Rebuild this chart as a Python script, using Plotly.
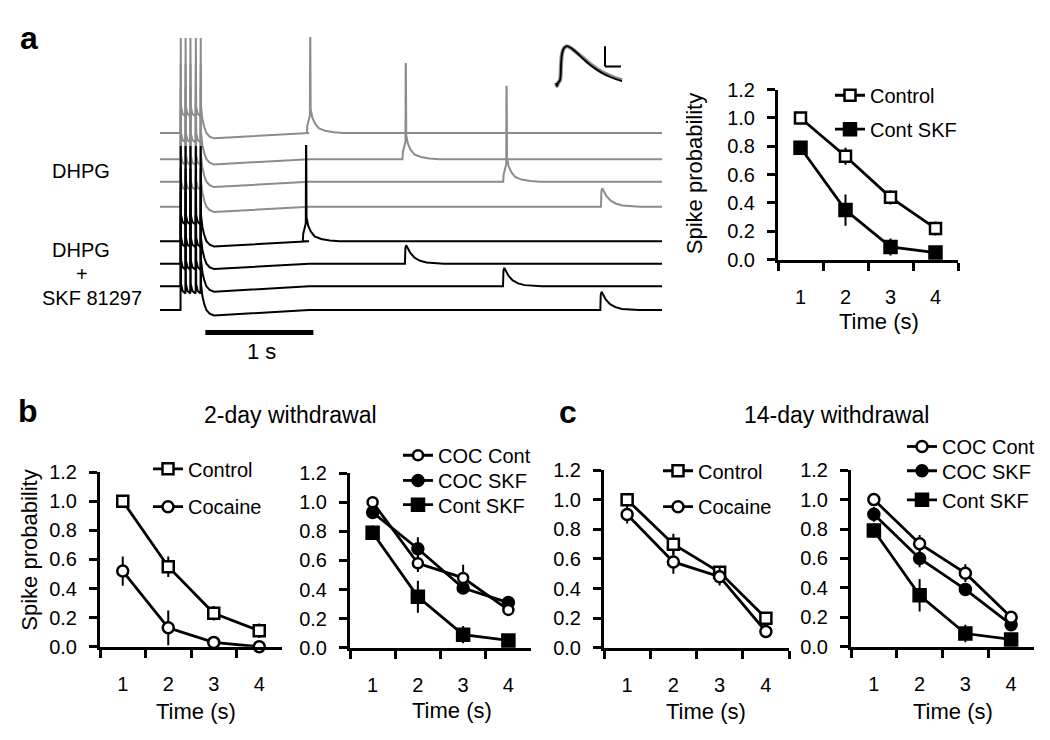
import plotly.graph_objects as go

W, H = 1050, 740
FONT = "Arial, Liberation Sans, sans-serif"


def fx(p):
    return p / W


def fy(p):
    return 1 - p / H


# ---------------- data: panel a traces (s, mV) ----------------
TRACE_OFFSETS_MV = [149, 127, 108, 87, 58, 39, 20, 0]
TRACE_GROUP = ["DHPG"] * 4 + ["DHPG + SKF 81297"] * 4
BURST_TIMES_S = [0.19, 0.235, 0.28, 0.33, 0.375]
EVENT_ONSET_S = [1.36, 2.245, 3.178, 4.083, 1.322, 2.268, 3.176, 4.077]
EVENT_HAS_SPIKE = [True, True, True, False, True, False, False, False]
TRACE_END_S = 4.648
SPIKE_PEAK_MV = 80

AHP_T = [0.012, 0.03, 0.05, 0.08, 0.12, 0.3, 0.55, 0.8, 1.0]
AHP_V = [12, 5, 0, -3, -4.5, -3.5, -2, -0.8, 0]
SPK_EVENT_T = [0.0, 0.004, 0.015, 0.028, 0.03, 0.032, 0.035, 0.05, 0.075, 0.11, 0.17, 0.25, 0.34]
SPK_EVENT_V = [0, 6, 10, 15, 80, 80, 20, 13, 8, 4, 1.8, 0.6, 0]
HUMP_T = [0.0, 0.004, 0.012, 0.025, 0.05, 0.09, 0.14, 0.2, 0.28, 0.36]
HUMP_V = [0, 13, 15.5, 13.5, 9, 5, 2.5, 1, 0.3, 0]

# inset EPSP (ms, mV)
EPSP_T = [-2, 0, 2, 6, 8, 10, 14, 20, 28, 38, 52, 68, 88, 108, 130]
EPSP_GRAY_V = [0, -1.5, 0, 1.5, 9, 15, 18, 19, 18, 16, 13, 9.5, 6, 3.5, 1.5]
EPSP_BLACK_V = [0, -1.5, 0, 1.5, 9, 15, 18, 19, 18, 16, 12.6, 9, 5.5, 3, 1.0]

# ---------------- data: summary plots ----------------
TIME_CATS = ["1", "2", "3", "4"]

A_CONTROL = [1.00, 0.73, 0.44, 0.22]
A_CONTROL_ERR = [0.01, 0.06, 0.05, 0.05]
CONT_SKF = [0.79, 0.35, 0.09, 0.05]
CONT_SKF_ERR = [0.05, 0.11, 0.06, 0.03]

B_CONTROL = [1.00, 0.55, 0.23, 0.11]
B_CONTROL_ERR = [0.01, 0.07, 0.05, 0.05]
B_COCAINE = [0.52, 0.13, 0.03, 0.00]
B_COCAINE_ERR = [0.10, 0.12, 0.01, 0.00]
B_COC_CONT = [1.00, 0.58, 0.48, 0.26]
B_COC_CONT_ERR = [0.01, 0.06, 0.09, 0.04]
B_COC_SKF = [0.93, 0.68, 0.41, 0.31]
B_COC_SKF_ERR = [0.03, 0.08, 0.03, 0.03]

C_CONTROL = [1.00, 0.70, 0.51, 0.20]
C_CONTROL_ERR = [0.01, 0.07, 0.03, 0.02]
C_COCAINE = [0.90, 0.58, 0.48, 0.11]
C_COCAINE_ERR = [0.06, 0.08, 0.06, 0.02]
C_COC_CONT = [1.00, 0.70, 0.50, 0.20]
C_COC_CONT_ERR = [0.01, 0.06, 0.06, 0.02]
C_COC_SKF = [0.90, 0.60, 0.39, 0.15]
C_COC_SKF_ERR = [0.05, 0.06, 0.04, 0.03]

Y_TICKS = [0.0, 0.2, 0.4, 0.6, 0.8, 1.0, 1.2]

GRAY = "#8c8c8c"
BLACK = "#000000"

fig = go.Figure()


# ---------------- panel a traces ----------------
def build_trace(offset, onset, has_spike):
    ts, vs = [0.0], [0.0]
    for i, tb in enumerate(BURST_TIMES_S):
        pre = 0.0 if i == 0 else 14.0
        ts += [tb, tb + 0.002, tb + 0.005]
        vs += [pre, SPIKE_PEAK_MV, 22.0]
        if i < len(BURST_TIMES_S) - 1:
            ts.append(tb + 0.02)
            vs.append(16.0)
    tl = BURST_TIMES_S[-1] + 0.005
    for t, v in zip(AHP_T, AHP_V):
        ts.append(tl + t)
        vs.append(v)
    tmpl_t, tmpl_v = (SPK_EVENT_T, SPK_EVENT_V) if has_spike else (HUMP_T, HUMP_V)
    for t, v in zip(tmpl_t, tmpl_v):
        ts.append(onset + t)
        vs.append(v)
    ts.append(TRACE_END_S)
    vs.append(0.0)
    return ts, [offset + v for v in vs]


for i in range(8):
    ts, vs = build_trace(TRACE_OFFSETS_MV[i], EVENT_ONSET_S[i], EVENT_HAS_SPIKE[i])
    fig.add_trace(go.Scatter(
        x=ts, y=vs, mode="lines", xaxis="x", yaxis="y",
        line=dict(color=GRAY if i < 4 else BLACK, width=2),
        showlegend=False, hoverinfo="skip", name=TRACE_GROUP[i]))

# inset EPSP
fig.add_trace(go.Scatter(x=EPSP_T, y=EPSP_GRAY_V, mode="lines", xaxis="x7", yaxis="y7",
                         line=dict(color=GRAY, width=4, shape="spline"), showlegend=False, hoverinfo="skip"))
fig.add_trace(go.Scatter(x=EPSP_T, y=EPSP_BLACK_V, mode="lines", xaxis="x7", yaxis="y7",
                         line=dict(color=BLACK, width=1.8, shape="spline"), showlegend=False, hoverinfo="skip"))


# ---------------- summary plots ----------------
def add_series(y, err, xa, ya, name, symbol, filled, legend, size=11):
    fig.add_trace(go.Scatter(
        x=TIME_CATS, y=y, xaxis=xa, yaxis=ya, name=name, legend=legend,
        mode="lines+markers", cliponaxis=False,
        line=dict(color=BLACK, width=2.8),
        marker=dict(symbol=symbol, size=size, color=BLACK if filled else "white",
                    line=dict(color=BLACK, width=2.5)),
        error_y=dict(type="data", array=err, visible=True, color=BLACK, thickness=2, width=0),
        hoverinfo="skip"))


# panel a
add_series(A_CONTROL, A_CONTROL_ERR, "x2", "y2", "Control", "square", False, "legend", 11)
add_series(CONT_SKF, CONT_SKF_ERR, "x2", "y2", "Cont SKF", "square", True, "legend2", 12)
# panel b left
add_series(B_CONTROL, B_CONTROL_ERR, "x3", "y3", "Control", "square", False, "legend3", 11)
add_series(B_COCAINE, B_COCAINE_ERR, "x3", "y3", "Cocaine", "circle", False, "legend4", 11)
# panel b right
add_series(CONT_SKF, CONT_SKF_ERR, "x4", "y4", "Cont SKF", "square", True, "legend7", 12)
add_series(B_COC_SKF, B_COC_SKF_ERR, "x4", "y4", "COC SKF", "circle", True, "legend6", 11)
add_series(B_COC_CONT, B_COC_CONT_ERR, "x4", "y4", "COC Cont", "circle", False, "legend5", 10)
# panel c left
add_series(C_CONTROL, C_CONTROL_ERR, "x5", "y5", "Control", "square", False, "legend8", 11)
add_series(C_COCAINE, C_COCAINE_ERR, "x5", "y5", "Cocaine", "circle", False, "legend9", 11)
# panel c right
add_series(CONT_SKF, CONT_SKF_ERR, "x6", "y6", "Cont SKF", "square", True, "legend12", 12)
add_series(C_COC_SKF, C_COC_SKF_ERR, "x6", "y6", "COC SKF", "circle", True, "legend11", 11)
add_series(C_COC_CONT, C_COC_CONT_ERR, "x6", "y6", "COC Cont", "circle", False, "legend10", 11)

# ---------------- layout ----------------
layout = dict(
    width=W, height=H, margin=dict(l=0, r=0, t=0, b=0),
    paper_bgcolor="white", plot_bgcolor="white",
    font=dict(family=FONT, color="black", size=20),
    showlegend=True,
)

# panel a trace axes: 1 s = 108 px, 1 mV = 1.225 px, bottom baseline at y=300 px
PX_S = 108.0
PX_MV = 1.225
layout["xaxis"] = dict(domain=[fx(152), fx(660)], range=[0, 508 / PX_S], visible=False, fixedrange=True)
layout["yaxis"] = dict(domain=[fy(345), fy(10)], range=[(300 - 345) / PX_MV, (300 - 10) / PX_MV],
                       visible=False, fixedrange=True)
# inset axes (2 ms / px, 0.5 mV / px)
layout["xaxis7"] = dict(domain=[fx(536), fx(621)], range=[-26, 144], visible=False, anchor="y7")
layout["yaxis7"] = dict(domain=[fy(75), fy(20)], range=[-4.5, 23], visible=False, anchor="x7")

boxes = {  # name: (x0, x1, y_of_zero, y_of_1.2)
    "2": (770, 950, 248, 72.8),
    "3": (92, 274, 647, 467),
    "4": (342, 523, 648, 468),
    "5": (596, 781, 648, 465),
    "6": (843, 1026, 647, 465),
}
for k, (x0, x1, y0, y1) in boxes.items():
    layout["xaxis" + k] = dict(
        domain=[fx(x0), fx(x1)], anchor="y" + k, type="category",
        categoryorder="array", categoryarray=TIME_CATS, range=[-0.5, 3.5],
        tickson="boundaries", ticks="outside", ticklen=8, tickwidth=3, tickcolor="black",
        showline=True, linewidth=3, linecolor="black", showgrid=False, zeroline=False,
        tickfont=dict(size=20), ticklabelstandoff=17, fixedrange=True)
    layout["yaxis" + k] = dict(
        domain=[fy(y0), fy(y1)], anchor="x" + k, range=[0, 1.2],
        tickvals=Y_TICKS, tickformat=".1f", ticks="outside", ticklen=8, tickwidth=3,
        tickcolor="black", showline=True, linewidth=3, linecolor="black",
        showgrid=False, zeroline=False, tickfont=dict(size=20), ticklabelstandoff=8,
        fixedrange=True)

# legends: (legend id, marker centre x px, row centre y px)
legend_pos = {
    "legend": (842, 78), "legend2": (842, 113),
    "legend3": (160, 463), "legend4": (160, 502),
    "legend5": (410, 449), "legend6": (410, 475), "legend7": (410, 500),
    "legend8": (670, 465), "legend9": (670, 502),
    "legend10": (914, 440), "legend11": (914, 465), "legend12": (914, 495),
}
for lid, (mx, my) in legend_pos.items():
    layout[lid] = dict(x=fx(mx - 20), y=fy(my - 19.5), xanchor="left", yanchor="top",
                       bgcolor="rgba(0,0,0,0)", borderwidth=0, font=dict(size=20),
                       itemclick=False, itemdoubleclick=False)

fig.update_layout(**layout)

# scale bars
fig.add_shape(type="line", xref="x", yref="y", x0=0.42, x1=1.42,
              y0=(300 - 323) / PX_MV, y1=(300 - 323) / PX_MV, line=dict(color="black", width=5))
fig.add_shape(type="line", xref="x7", yref="y7", x0=96, x1=96, y0=8.5, y1=19,
              line=dict(color="black", width=2))
fig.add_shape(type="line", xref="x7", yref="y7", x0=96, x1=128, y0=8.5, y1=8.5,
              line=dict(color="black", width=2))


def text(x, y, s, size=20, bold=False, angle=0):
    fig.add_annotation(x=fx(x), y=fy(y), xref="paper", yref="paper", text=("<b>%s</b>" % s) if bold else s,
                       showarrow=False, xanchor="center", yanchor="middle", textangle=angle,
                       font=dict(size=size, family=FONT, color="black"))


text(253, 343, "1 s", 22)
text(73, 157, "DHPG", 20)
text(73, 238, "DHPG", 20)
text(74, 263, "+", 20)
text(84, 288, "SKF 81297", 20)

text(21, 20, "a", 32, bold=True)
text(20, 404, "b", 32, bold=True)
text(560, 405, "c", 32, bold=True)
text(282, 408, "2-day withdrawal", 23)
text(828, 408, "14-day withdrawal", 23)

# axis titles
text(686, 160, "Spike probability", 22, angle=-90)
text(22, 548, "Spike probability", 22, angle=-90)
text(871, 312, "Time (s)", 22)
text(188, 714, "Time (s)", 22)
text(444, 713, "Time (s)", 22)
text(698, 714, "Time (s)", 22)
text(945, 714, "Time (s)", 22)

fig.write_html("out.html")
